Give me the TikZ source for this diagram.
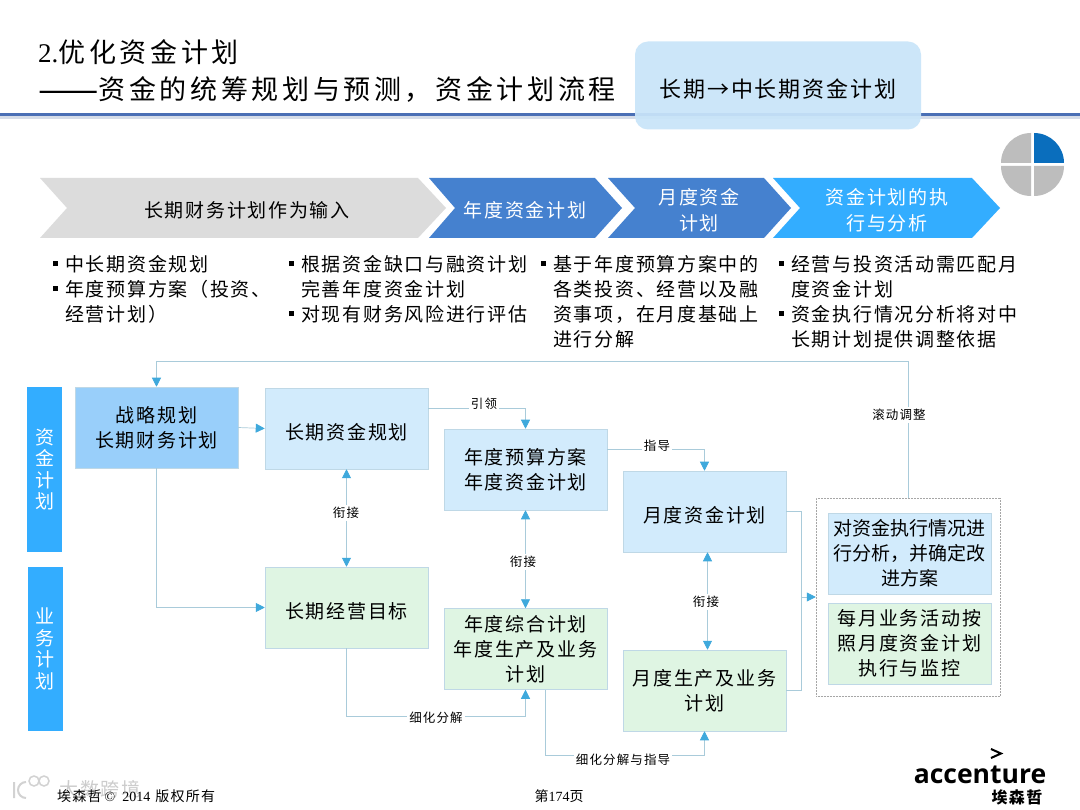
\documentclass[tikz,border=0pt]{standalone}
\usepackage{fontspec}
\setmainfont[LetterSpace=9]{Noto Sans CJK SC}
\newfontfamily\titlefont[LetterSpace=13.5]{Noto Sans CJK SC}
\newfontfamily\tightfont{Noto Sans CJK SC}
\newfontfamily\latinfont{Liberation Serif}
\newfontfamily\logofont{Open Sans}
\usepackage{xcolor}
\usetikzlibrary{arrows.meta}
\definecolor{railblue}{HTML}{4A6FB5}
\definecolor{railshade}{HTML}{D5DCE8}
\definecolor{tagblue}{HTML}{C9E5F9}
\definecolor{chevgrey}{HTML}{DCDCDC}
\definecolor{chevblue}{HTML}{4581CF}
\definecolor{chevsky}{HTML}{33ADFF}
\definecolor{pieblue}{HTML}{0A6EBD}
\definecolor{piegrey}{HTML}{BDBDBD}
\definecolor{stratfill}{HTML}{99CFFA}
\definecolor{fundfill}{HTML}{D2EBFC}
\definecolor{bizfill}{HTML}{DFF5E3}
\definecolor{boxedge}{HTML}{BFD8E6}
\definecolor{connline}{HTML}{A9CBDA}
\definecolor{tipblue}{HTML}{3FA9DC}
\newcommand{\bulmark}{\llap{\rule[0.28em]{5pt}{5pt}\hspace{7pt}}}
\newcommand{\cjkcomma}{^^^^ff0c}
\newcommand{\cjkopen}{^^^^ff08}
\newcommand{\cjkclose}{^^^^ff09}
\begin{document}
\begin{tikzpicture}[x=1pt,y=-1pt]
	\tikzset{every node/.style={inner sep=0pt,align=center}}
	\tikzset{>={Triangle[length=9pt,width=9pt,color=tipblue]}}
	\tikzset{flowbox/.style={minimum width=163pt,minimum height=81pt,draw=boxedge,line width=0.5pt,font=\fontsize{19pt}{25pt}\selectfont,execute at begin node={\rule{0pt}{23pt}}}}
	\tikzset{stratbox/.style={flowbox,fill=stratfill}}
	\tikzset{fundbox/.style={flowbox,fill=fundfill}}
	\tikzset{bizbox/.style={flowbox,fill=bizfill}}
	\tikzset{sidebox/.style={minimum width=35pt,minimum height=164pt,fill=chevsky,text=white,font=\fontsize{19pt}{21.5pt}\selectfont}}
	\tikzset{chevtext/.style={font=\fontsize{19pt}{26pt}\selectfont}}
	\tikzset{notetext/.style={anchor=north west,align=left,font=\fontsize{19pt}{25pt}\selectfont}}
	\tikzset{conn/.style={draw=connline,line width=0.7pt,->}}
	\tikzset{connlabel/.style={fill=white,inner sep=2pt,font=\fontsize{12.5pt}{14pt}\selectfont}}
	\useasboundingbox (0,0) rectangle (1080,810);
	\fill[white] (0,0) rectangle (1080,810);

	% header
	\fill[railshade] (0,116) rectangle (1080,119);
	\fill[railblue] (0,113) rectangle (1080,116);
	\node[anchor=west,font=\titlefont\fontsize{27pt}{30pt}\selectfont] (headone) at (38,52) {{\latinfont 2.}优化资金计划};
	\node[anchor=west,font=\titlefont\fontsize{27pt}{30pt}\selectfont] (headtwo) at (38,90) {\raisebox{-3pt}{\fontsize{36pt}{30pt}\selectfont ——}资金的统筹规划与预测\cjkcomma 资金计划流程};
	\node[fill=tagblue,fill opacity=0.93,text opacity=1,rounded corners=13pt,minimum width=286pt,minimum height=88pt,font=\fontsize{22pt}{24pt}\selectfont,execute at begin node={\rule{0pt}{25pt}}] (tagbox) at (778,85.5) {长期→中长期资金计划};

	% quarter marker
	\fill[pieblue] (1034,163) -- (1064,163) arc[start angle=0,end angle=90,radius=30pt] -- cycle;
	\fill[piegrey] (1031,163) -- (1031,133) arc[start angle=90,end angle=180,radius=30pt] -- cycle;
	\fill[piegrey] (1031,166) -- (1001,166) arc[start angle=180,end angle=270,radius=30pt] -- cycle;
	\fill[piegrey] (1034,166) -- (1034,196) arc[start angle=270,end angle=360,radius=30pt] -- cycle;

	% process band
	\fill[chevgrey] (40,178) -- (418,178) -- (446,208) -- (418,238) -- (40,238) -- (67,208) -- cycle;
	\fill[chevblue] (429,178) -- (595,178) -- (622,208) -- (595,238) -- (429,238) -- (455,208) -- cycle;
	\fill[chevblue] (608,178) -- (764,178) -- (791,208) -- (764,238) -- (608,238) -- (635,208) -- cycle;
	\fill[chevsky] (773,178) -- (972,178) -- (1000,208) -- (972,238) -- (773,238) -- (800,208) -- cycle;
	\node[chevtext] (stepinput) at (247,210) {长期财务计划作为输入};
	\node[chevtext,text=white] (stepyear) at (525,210) {年度资金计划};
	\node[chevtext,text=white] (stepmonth) at (699,210) {月度资金\\计划};
	\node[chevtext,text=white] (stepexec) at (887,210) {资金计划的执\\行与分析};

	% notes under the band
	\node[notetext] (noteone) at (65,255) {\bulmark 中长期资金规划\\\bulmark 年度预算方案\cjkopen 投资、\\经营计划\cjkclose};
	\node[notetext] (notetwo) at (301,255) {\bulmark 根据资金缺口与融资计划\\完善年度资金计划\\\bulmark 对现有财务风险进行评估};
	\node[notetext] (notethree) at (553,255) {\bulmark 基于年度预算方案中的\\各类投资、经营以及融\\资事项\cjkcomma 在月度基础上\\进行分解};
	\node[notetext] (notefour) at (791,255) {\bulmark 经营与投资活动需匹配月\\度资金计划\\\bulmark 资金执行情况分析将对中\\长期计划提供调整依据};

	% rows
	\node[sidebox] (sidefund) at (44.5,469.5) {资\\金\\计\\划};
	\node[sidebox] (sidebiz) at (45,649) {业\\务\\计\\划};

	% flow boxes
	\node[stratbox] (stratplan) at (156.5,427.5) {战略规划\\长期财务计划};
	\node[fundbox] (longfund) at (346.5,428.5) {长期资金规划};
	\node[fundbox] (yearfund) at (525.5,469.5) {年度预算方案\\年度资金计划};
	\node[fundbox] (monthfund) at (704.5,511.5) {月度资金计划};
	\node[bizbox] (longgoal) at (346.5,607.5) {长期经营目标};
	\node[bizbox] (yearbiz) at (525.5,649) {年度综合计划\\年度生产及业务\\计划};
	\node[bizbox] (monthbiz) at (704.5,690.5) {月度生产及业务\\计划};
	\node[draw=gray!70,densely dotted,line width=0.5pt,minimum width=184pt,minimum height=198pt] (execgroup) at (908,597) {};
	\node[fundbox,font=\tightfont\fontsize{19pt}{25pt}\selectfont] (execcheck) at (909.5,553.5) {对资金执行情况进\\行分析\cjkcomma 并确定改\\进方案};
	\node[bizbox] (execwatch) at (909.5,643.5) {每月业务活动按\\照月度资金计划\\执行与监控};

	% turning points
	\coordinate (rollturn) at (156.5,361);
	\coordinate (splitturn) at (525.5,716);
	\coordinate (guideturn) at (704.5,755);
	\coordinate (mergeturn) at (801,597);

	% connectors
	\draw[conn] (execgroup.north) |- (rollturn) -- (stratplan.north);
	\draw[conn] (stratplan.east) -- (longfund.west);
	\draw[conn] (stratplan.south) |- (longgoal.west);
	\draw[conn,<->] (longfund.south) -- (longgoal.north);
	\draw[conn] ([yshift=20.5pt]longfund.east) -| (yearfund.north);
	\draw[conn] ([yshift=20.5pt]yearfund.east) -| (monthfund.north);
	\draw[conn,<->] (yearfund.south) -- (yearbiz.north);
	\draw[conn,<->] ([xshift=3pt]monthfund.south) -- ([xshift=3pt]monthbiz.north);
	\draw[conn] (longgoal.south) |- (splitturn) -- (yearbiz.south);
	\draw[conn] ([xshift=20pt]yearbiz.south) |- (guideturn) -- (monthbiz.south);
	\draw[connline,line width=0.7pt] (monthfund.east) -| (mergeturn);
	\draw[connline,line width=0.7pt] (monthbiz.east) -| (mergeturn);
	\draw[conn] (mergeturn) -- (execgroup.west);

	% connector labels
	\node[connlabel] (labellead) at (484,404) {引领};
	\node[connlabel] (labelguide) at (657,446) {指导};
	\node[connlabel] (labelroll) at (899,415) {滚动调整};
	\node[connlabel] (labellinkone) at (346,513) {衔接};
	\node[connlabel] (labellinktwo) at (523,562) {衔接};
	\node[connlabel] (labellinkthree) at (706,602) {衔接};
	\node[connlabel] (labelsplit) at (436,718) {细化分解};
	\node[connlabel] (labelsplitguide) at (623,760) {细化分解与指导};

	% footer
	\node[text=gray!40,font=\fontsize{19pt}{21pt}\selectfont] (marktext) at (100,789) {大数跨境};
	\draw[gray!35,line width=2pt] (14,782) -- (14,798) (26,782) arc[start angle=90,end angle=270,radius=8pt];
	\draw[gray!35,line width=1.5pt] (34,781) circle[radius=5pt] (44,781) circle[radius=5pt];
	\node[anchor=west,font=\fontsize{14pt}{16pt}\selectfont] (footcopy) at (57,796) {埃森哲\hspace{3pt}{\latinfont ©\hspace{7pt}2014}\hspace{5pt}版权所有};
	\node[font=\fontsize{14pt}{16pt}\selectfont] (footpage) at (559,796) {第{\latinfont 174}页};
	\node[font=\logofont\fontsize{26.5pt}{29pt}\selectfont\bfseries] (logoname) at (980,775) {accenture};
	\draw[black,line width=2pt] (991,749) -- (1001,753.5) -- (991,758);
	\node[font=\fontsize{16pt}{18pt}\selectfont\bfseries] (logocn) at (1017,797) {埃森哲};
\end{tikzpicture}
\end{document}
